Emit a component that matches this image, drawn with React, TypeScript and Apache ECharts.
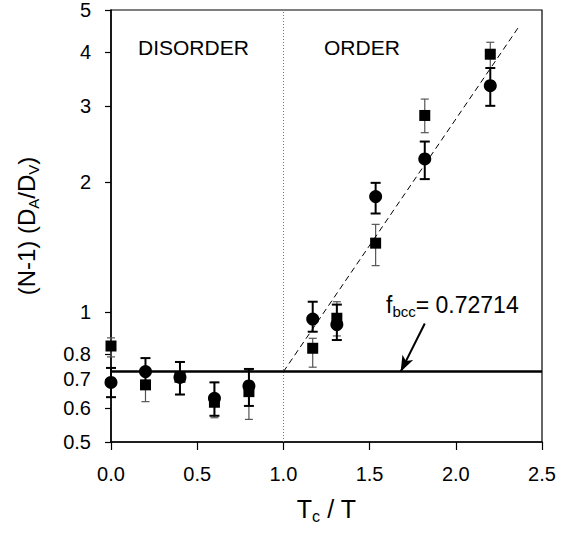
import React, { useEffect, useRef } from "react";
import * as echarts from "echarts";

const xValues = [0, 0.2, 0.4, 0.6, 0.8, 1.17, 1.31, 1.535, 1.82, 2.2];
const circleValues = [0.687, 0.728, 0.706, 0.631, 0.674, 0.963, 0.935, 1.85, 2.26, 3.34];
const circleLow = [0.635, 0.68, 0.644, 0.575, 0.606, 0.9, 0.861, 1.69, 2.03, 3.0];
const circleHigh = [0.742, 0.782, 0.766, 0.687, 0.738, 1.056, 1.04, 1.99, 2.48, 3.67];
const squareValues = [0.834, 0.678, 0.706, 0.618, 0.654, 0.824, 0.967, 1.443, 2.85, 3.95];
const squareLow = [0.787, 0.62, 0.644, 0.569, 0.564, 0.745, 0.88, 1.28, 2.6, 3.67];
const squareHigh = [0.871, 0.735, 0.766, 0.687, 0.73, 0.869, 1.056, 1.595, 3.11, 4.21];
const fitX = [1.0, 2.37];
const fitY = [0.72714, 4.6];
const fbcc = 0.72714;
const transitionX = 1.0;
const arrowFrom = [1.82, 0.94];
const arrowTo = [1.68, 0.72714];
const yTickValues = [0.5, 0.6, 0.7, 0.8, 1, 2, 3, 4, 5];
const xTickLabels = ["0.0", "0.5", "1.0", "1.5", "2.0", "2.5"];

const FONT = "'Liberation Sans', Arial, Helvetica, sans-serif";

function errBarRender(color: string, width: number, cap: number) {
  return (params: any, api: any) => {
    const x = api.value(0);
    const lo = api.coord([x, api.value(1)]);
    const hi = api.coord([x, api.value(2)]);
    const style = { stroke: color, lineWidth: width, fill: "none" };
    return {
      type: "group",
      children: [
        { type: "line", shape: { x1: lo[0], y1: lo[1], x2: hi[0], y2: hi[1] }, style },
        { type: "line", shape: { x1: lo[0] - cap / 2, y1: lo[1], x2: lo[0] + cap / 2, y2: lo[1] }, style },
        { type: "line", shape: { x1: hi[0] - cap / 2, y1: hi[1], x2: hi[0] + cap / 2, y2: hi[1] }, style },
      ],
    };
  };
}

export default function App() {
  const ref = useRef<HTMLDivElement>(null);
  useEffect(() => {
    if (!ref.current) return;
    const chart = echarts.init(ref.current, null, { renderer: "svg" });
    const logMin = Math.log10(yTickValues[0]);
    const logMax = Math.log10(yTickValues[yTickValues.length - 1]);
    chart.setOption({
      animation: false,
      backgroundColor: "#fff",
      textStyle: { fontFamily: FONT },
      grid: {
        left: 111,
        right: 29,
        top: 10,
        bottom: 91,
        show: true,
        borderColor: "#000",
        borderWidth: 1.2,
      },
      xAxis: {
        type: "value",
        min: 0,
        max: 2.5,
        interval: 0.5,
        axisLine: { onZero: false, lineStyle: { color: "#000", width: 1.5 } },
        axisTick: { show: true, inside: false, length: 8, lineStyle: { color: "#000", width: 1.2 } },
        axisLabel: {
          margin: 22,
          fontSize: 20,
          color: "#000",
          fontFamily: FONT,
          formatter: (v: number) => xTickLabels[Math.round(v / 0.5)] ?? v.toFixed(1),
        },
        splitLine: { show: false },
        name: "T{sub|c} / T",
        nameLocation: "middle",
        nameGap: 52,
        nameTextStyle: {
          fontSize: 25,
          color: "#000",
          fontFamily: FONT,
          rich: {
            sub: { fontSize: 16, fontFamily: FONT, color: "#000", padding: [14, 0, 0, 0] },
          },
        },
      },
      yAxis: [
        {
          type: "log",
          logBase: 10,
          min: yTickValues[0],
          max: yTickValues[yTickValues.length - 1],
          axisLine: { show: true, onZero: false, lineStyle: { color: "#000", width: 1.5 } },
          axisTick: { show: false },
          axisLabel: { show: false },
          splitLine: { show: false },
        },
        {
          type: "value",
          position: "left",
          min: logMin,
          max: logMax,
          axisLine: { show: false, onZero: false },
          axisTick: {
            show: true,
            inside: false,
            length: 6,
            lineStyle: { color: "#000", width: 1.2 },
            customValues: yTickValues.map((v) => Math.log10(v)),
          },
          axisLabel: {
            margin: 20,
            fontSize: 20,
            color: "#000",
            fontFamily: FONT,
            customValues: yTickValues.map((v) => Math.log10(v)),
            formatter: (v: number) => {
              const x = Math.pow(10, v);
              return x < 0.95 ? x.toFixed(1) : String(Math.round(x));
            },
          },
          splitLine: { show: false },
          name: "(N-1) (D{sub|A}/D{sub|V})",
          nameLocation: "middle",
          nameGap: 70,
          nameRotate: 90,
          nameTextStyle: {
            fontSize: 24,
            color: "#000",
            fontFamily: FONT,
            rich: {
              sub: { fontSize: 15, fontFamily: FONT, color: "#000", padding: [14, 0, 0, 0] },
            },
          },
        },
      ],
      series: [
        {
          type: "custom",
          yAxisIndex: 0,
          renderItem: errBarRender("#555", 1.2, 8),
          data: xValues.map((x, i) => [x, squareLow[i], squareHigh[i]]),
          z: 2,
        },
        {
          type: "custom",
          yAxisIndex: 0,
          renderItem: errBarRender("#000", 2, 10),
          data: xValues.map((x, i) => [x, circleLow[i], circleHigh[i]]),
          z: 3,
        },
        {
          type: "scatter",
          yAxisIndex: 0,
          symbol: "rect",
          symbolSize: 11,
          itemStyle: { color: "#000", opacity: 1 },
          data: xValues.map((x, i) => [x, squareValues[i]]),
          z: 4,
        },
        {
          type: "scatter",
          yAxisIndex: 0,
          symbol: "circle",
          symbolSize: 13,
          itemStyle: { color: "#000", opacity: 1 },
          data: xValues.map((x, i) => [x, circleValues[i]]),
          z: 5,
        },
        {
          type: "line",
          yAxisIndex: 0,
          showSymbol: false,
          symbol: "none",
          lineStyle: { color: "#000", width: 1, type: [6, 4] },
          data: fitX.map((x, i) => [x, fitY[i]]),
          z: 6,
          markLine: {
            silent: true,
            symbol: "none",
            label: { show: false },
            data: [
              {
                xAxis: transitionX,
                lineStyle: { color: "#777", width: 1, type: [1, 2] },
              },
              {
                yAxis: fbcc,
                lineStyle: { color: "#000", width: 2.5, type: "solid" },
              },
              [
                {
                  coord: arrowFrom,
                  symbol: "none",
                  lineStyle: { color: "#000", width: 2, type: "solid" },
                },
                { coord: arrowTo, symbol: "arrow", symbolSize: [9, 16] },
              ],
            ],
          },
        },
      ],
      graphic: [
        {
          type: "text",
          x: 138,
          y: 47,
          style: { text: "DISORDER", font: `21px ${FONT}`, fill: "#000", verticalAlign: "middle" },
        },
        {
          type: "text",
          x: 324,
          y: 47,
          style: { text: "ORDER", font: `21px ${FONT}`, fill: "#000", verticalAlign: "middle" },
        },
        {
          type: "text",
          x: 386,
          y: 305,
          style: {
            text: "{a|f}{sub|bcc}{a|= 0.72714}",
            verticalAlign: "middle",
            rich: {
              a: { fontSize: 23, fontFamily: FONT, fill: "#000", color: "#000" },
              sub: { fontSize: 15, fontFamily: FONT, fill: "#000", color: "#000", padding: [12, 0, 0, 0] },
            },
          },
        },
      ],
    });
    return () => chart.dispose();
  }, []);
  return (
    <div
      ref={ref}
      style={{ position: "fixed", left: 0, top: 0, width: 571, height: 533, background: "#fff" }}
    />
  );
}
